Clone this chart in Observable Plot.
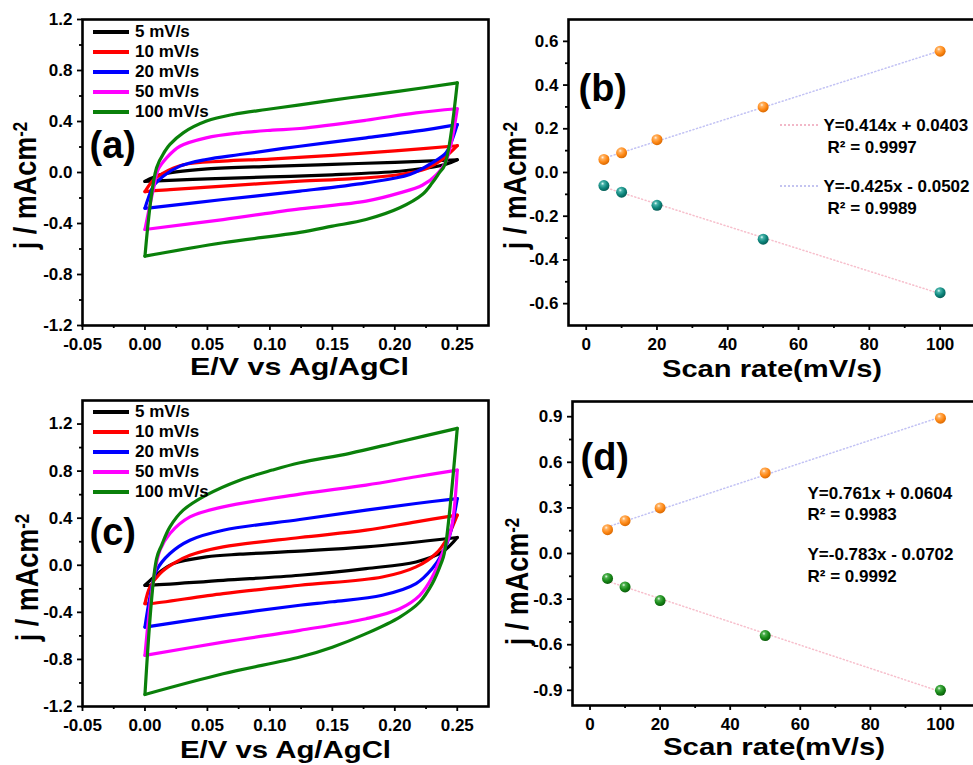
<!DOCTYPE html>
<html>
<head>
<meta charset="utf-8">
<script src="https://cdn.jsdelivr.net/npm/d3@7"></script>
<script src="https://cdn.jsdelivr.net/npm/@observablehq/plot@0.6"></script>
<style>
  html, body { margin: 0; padding: 0; background: #fff; overflow: hidden; }
  #root { position: relative; width: 973px; height: 765px; overflow: hidden; background: #fff;
          font-family: "Liberation Sans", Arial, sans-serif; }
  .panel { position: absolute; }
  .leg-line { position: absolute; height: 4px; }
  .leg-text { position: absolute; font: bold 17px "Liberation Sans", Arial, sans-serif; line-height: 20px; color: #000; white-space: nowrap; }
  .fit-key { position: absolute; height: 0; border-top: 2px dotted; }
</style>
</head>
<body>
<div id="root"></div>
<script>
// ---------------- data ----------------
const scanLabels = ["5 mV/s", "10 mV/s", "20 mV/s", "50 mV/s", "100 mV/s"];
const scanRates = [5, 10, 20, 50, 100];

const potentialTicks = [-0.05, 0.00, 0.05, 0.10, 0.15, 0.20, 0.25];
const potentialMinor = [-0.025, 0.025, 0.075, 0.125, 0.175, 0.225];
const currentTicksAC = [-1.2, -0.8, -0.4, 0.0, 0.4, 0.8, 1.2];
const currentMinorAC = [-1.0, -0.6, -0.2, 0.2, 0.6, 1.0];
const rateTicks = [0, 20, 40, 60, 80, 100];
const rateMinor = [10, 30, 50, 70, 90];
const currentTicksB = [-0.6, -0.4, -0.2, 0.0, 0.2, 0.4, 0.6];
const currentMinorB = [-0.5, -0.3, -0.1, 0.1, 0.3, 0.5];
const currentTicksD = [-0.9, -0.6, -0.3, 0.0, 0.3, 0.6, 0.9];
const currentMinorD = [-0.75, -0.45, -0.15, 0.15, 0.45, 0.75];

// CV loops, panel (a): [E (V), j (mA/cm2)] — forward sweep to 0.25 V, then reverse sweep
const cvA5 = [[0,-0.07],[0.005,-0.045],[0.012,-0.018],[0.025,0.005],[0.05,0.028],[0.1,0.048],[0.15,0.064],[0.2,0.08],[0.25,0.1],[0.241,0.065],[0.225,0.035],[0.204,0.01],[0.15,-0.018],[0.1,-0.035],[0.05,-0.05],[0.01,-0.065],[0,-0.07]];
const cvA10 = [[0,-0.15],[0.0067,-0.06],[0.0146,-0.005],[0.0306,0.06],[0.0626,0.089],[0.1,0.105],[0.15,0.135],[0.2,0.17],[0.25,0.21],[0.238,0.102],[0.225,0.03],[0.204,-0.016],[0.164,-0.05],[0.124,-0.068],[0.0626,-0.107],[0.02,-0.135],[0.004,-0.146],[0,-0.15]];
const cvA20 = [[0,-0.28],[0.0027,-0.2],[0.0067,-0.107],[0.0146,-0.029],[0.028,0.05],[0.049,0.102],[0.076,0.141],[0.124,0.206],[0.177,0.272],[0.217,0.324],[0.25,0.376],[0.245,0.233],[0.241,0.155],[0.23,0.076],[0.212,-0.016],[0.177,-0.081],[0.124,-0.146],[0.0626,-0.212],[0.004,-0.277],[0,-0.28]];
const cvA50 = [[0,-0.447],[0.0067,-0.133],[0.0106,0.024],[0.0173,0.115],[0.028,0.206],[0.049,0.272],[0.076,0.311],[0.102,0.332],[0.124,0.345],[0.177,0.41],[0.217,0.468],[0.25,0.5],[0.241,0.09],[0.233,-0.02],[0.222,-0.1],[0.204,-0.16],[0.177,-0.225],[0.124,-0.285],[0.0626,-0.369],[0,-0.447]];
const cvA100 = [[0,-0.656],[0.0093,0.037],[0.016,0.167],[0.02,0.22],[0.0306,0.311],[0.0493,0.403],[0.0705,0.455],[0.0972,0.494],[0.124,0.53],[0.164,0.586],[0.204,0.638],[0.25,0.703],[0.24,0.06],[0.2356,-0.003],[0.23,-0.081],[0.222,-0.173],[0.204,-0.277],[0.177,-0.369],[0.15,-0.421],[0.124,-0.47],[0.0626,-0.551],[0,-0.656]];

// CV loops, panel (c)
const cvC5 = [[0,-0.17],[0.012,-0.057],[0.0226,0.014],[0.049,0.071],[0.076,0.094],[0.124,0.12],[0.177,0.156],[0.25,0.236],[0.238,0.113],[0.217,0.028],[0.177,-0.028],[0.124,-0.085],[0.0626,-0.128],[0.004,-0.17],[0,-0.17]];
const cvC10 = [[0,-0.326],[0.004,-0.184],[0.012,-0.07],[0.0226,0.014],[0.036,0.085],[0.0626,0.156],[0.124,0.236],[0.177,0.298],[0.217,0.369],[0.25,0.426],[0.241,0.213],[0.233,0.1],[0.217,-0.014],[0.19,-0.1],[0.124,-0.17],[0.0626,-0.241],[0.004,-0.326],[0,-0.326]];
const cvC20 = [[0,-0.525],[0.004,-0.27],[0.0093,-0.043],[0.02,0.1],[0.036,0.213],[0.0626,0.298],[0.124,0.389],[0.177,0.468],[0.217,0.525],[0.25,0.567],[0.2436,0.241],[0.238,0.1],[0.23,-0.028],[0.217,-0.156],[0.19,-0.255],[0.15,-0.31],[0.124,-0.34],[0.0626,-0.426],[0,-0.525]];
const cvC50 = [[0,-0.766],[0.0027,-0.468],[0.0067,-0.128],[0.012,0.128],[0.02,0.27],[0.036,0.411],[0.0626,0.496],[0.124,0.604],[0.177,0.681],[0.217,0.752],[0.25,0.809],[0.245,0.3],[0.238,0.1],[0.23,-0.1],[0.22,-0.255],[0.204,-0.369],[0.177,-0.454],[0.124,-0.553],[0.0626,-0.653],[0,-0.766]];
const cvC100 = [[0,-1.098],[0.0093,0.057],[0.0133,0.17],[0.02,0.326],[0.0306,0.468],[0.049,0.596],[0.0759,0.723],[0.102,0.809],[0.124,0.871],[0.164,0.951],[0.204,1.05],[0.25,1.163],[0.2396,0.1],[0.237,0.014],[0.23,-0.156],[0.22,-0.312],[0.204,-0.44],[0.177,-0.581],[0.15,-0.696],[0.124,-0.78],[0.0626,-0.922],[0,-1.098]];

// peak current vs scan rate
const anodicB = [0.06, 0.09, 0.15, 0.30, 0.555];
const cathodicB = [-0.06, -0.09, -0.15, -0.305, -0.55];
const anodicD = [0.157, 0.216, 0.30, 0.53, 0.89];
const cathodicD = [-0.164, -0.22, -0.31, -0.54, -0.90];

const eqB = ["Y=0.414x + 0.0403", "R\u00B2 = 0.9997", "Y=-0.425x - 0.0502", "R\u00B2 = 0.9989"];
const eqD = ["Y=0.761x + 0.0604", "R\u00B2 = 0.9983", "Y=-0.783x - 0.0702", "R\u00B2 = 0.9992"];

// ---------------- styles ----------------
const scanColors = ["#000000", "#ff0000", "#0000ff", "#ff00ff", "#0a800a"];
const FONT = '"Liberation Sans", Arial, sans-serif';
const YTITLE = "j / mAcm\u207B\u00B2";

function axes(xTicks, xMinor, xFmt, yTicks, yMinor, yFmt) {
  return [
    Plot.axisX({ticks: xMinor, tickSize: 3, strokeWidth: 1.8, fill: "none", label: null}),
    Plot.axisX({ticks: xTicks, tickSize: 5, tickPadding: 7, strokeWidth: 1.8, tickFormat: xFmt, label: null, fontSize: 17, fontWeight: "bold"}),
    Plot.axisY({ticks: yMinor, tickSize: 3, strokeWidth: 1.8, fill: "none", label: null}),
    Plot.axisY({ticks: yTicks, tickSize: 5, tickPadding: 5, strokeWidth: 1.8, tickFormat: yFmt, label: null, fontSize: 17, fontWeight: "bold"})
  ];
}
const f2 = d => d.toFixed(2);
const f1 = d => d.toFixed(1);
const f0 = d => String(d);

function baseStyle() {
  return {background: "transparent", overflow: "visible", fontFamily: FONT, fontSize: "16px", fontWeight: "bold", color: "#000"};
}

function titles(cfg, xTitle) {
  return [
    Plot.text([cfg.tag], {text: d => d, frameAnchor: "top-left", textAnchor: "start", lineAnchor: "middle", dx: cfg.tagDx, dy: cfg.tagDy, fontSize: 38, fontWeight: "bold"}),
    Plot.text([xTitle], {text: d => d, frameAnchor: "bottom", textAnchor: "middle", lineAnchor: "middle", dx: cfg.xtDx, dy: cfg.xtDy, fontSize: 24, fontWeight: "bold"}),
    Plot.text([YTITLE], {text: d => d, frameAnchor: "left", textAnchor: "middle", lineAnchor: "middle", rotate: -90, dx: cfg.ytDx, dy: cfg.ytDy, fontSize: 27, fontWeight: "bold"})
  ];
}

// split each loop into its forward (to 0.25 V) and reverse sweep so the vertex stays sharp
function cvRows(loops) {
  return loops.flatMap((loop, k) => {
    const turn = d3.maxIndex(loop, p => p[0]);
    const fwd = loop.slice(0, turn + 1).map(([e, j]) => ({e, j, scan: scanLabels[k], sweep: scanLabels[k] + " fwd"}));
    const rev = loop.slice(turn).map(([e, j]) => ({e, j, scan: scanLabels[k], sweep: scanLabels[k] + " rev"}));
    return fwd.concat(rev);
  });
}

function cvPanel(loops, cfg) {
  const rows = cvRows(loops);
  return Plot.plot({
    width: cfg.width, height: cfg.height,
    marginLeft: cfg.ml, marginRight: cfg.mr, marginTop: cfg.mt, marginBottom: cfg.mb,
    style: baseStyle(),
    x: {domain: [-0.05, 0.275], label: null},
    y: {domain: cfg.yDomain, label: null},
    color: {type: "ordinal", domain: scanLabels, range: scanColors},
    marks: [
      ...axes(potentialTicks, potentialMinor, f2, currentTicksAC, currentMinorAC, f1),
      Plot.line(rows, {x: "e", y: "j", z: "sweep", stroke: "scan", curve: "catmull-rom", strokeWidth: 3.2, strokeLinejoin: "round", strokeLinecap: "round"}),
      Plot.frame({strokeWidth: 2.6}),
      ...titles(cfg, "E/V vs Ag/AgCl")
    ]
  });
}

function ratePanel(anodic, cathodic, eqs, cfg) {
  const up = scanRates.map((r, i) => ({rate: r, j: anodic[i]}));
  const dn = scanRates.map((r, i) => ({rate: r, j: cathodic[i]}));
  const eqMarks = eqs.map((s, i) => Plot.text([s], {text: d => d, frameAnchor: "top-left", textAnchor: "start", lineAnchor: "middle",
    dx: cfg.eqDx[i], dy: cfg.eqDy[i], fontSize: 17, fontWeight: "bold"}));
  return Plot.plot({
    width: cfg.width, height: cfg.height,
    marginLeft: cfg.ml, marginRight: cfg.mr, marginTop: cfg.mt, marginBottom: cfg.mb,
    style: baseStyle(),
    x: {domain: [-5, 110], label: null},
    y: {domain: cfg.yDomain, label: null},
    marks: [
      ...axes(rateTicks, rateMinor, f0, cfg.yTicks, cfg.yMinor, f1),
      Plot.linearRegressionY(up, {x: "rate", y: "j", ci: 0, stroke: "#c2c2f4", strokeWidth: 1.5, strokeDasharray: "1,2.6"}),
      Plot.linearRegressionY(dn, {x: "rate", y: "j", ci: 0, stroke: "#f7bfcc", strokeWidth: 1.5, strokeDasharray: "1,2.6"}),
      Plot.dot(up, {x: "rate", y: "j", r: 5.5, fill: `url(#${cfg.id}-up)`}),
      Plot.dot(dn, {x: "rate", y: "j", r: 5.5, fill: `url(#${cfg.id}-dn)`}),
      Plot.frame({strokeWidth: 2.6}),
      ...eqMarks,
      ...titles(cfg, "Scan rate(mV/s)")
    ]
  });
}

function addGradient(svg, id, stops) {
  let defs = d3.select(svg).select("defs");
  if (defs.empty()) defs = d3.select(svg).insert("defs", ":first-child");
  const g = defs.append("radialGradient").attr("id", id).attr("cx", "0.38").attr("cy", "0.32").attr("r", "0.7");
  stops.forEach(([o, c]) => g.append("stop").attr("offset", o).attr("stop-color", c));
}

function finishText(svg, xTitle, xLen) {
  d3.select(svg).selectAll("text").each(function() {
    const t = d3.select(this);
    if (this.textContent === xTitle) {
      t.attr("textLength", xLen).attr("lengthAdjust", "spacingAndGlyphs");
    } else if (this.textContent === YTITLE) {
      t.text("j / mAcm");
      t.append("tspan").attr("dy", "-0.42em").attr("font-size", "0.62em").text("-2");
      const tr = t.attr("transform");
      if (tr) t.attr("transform", tr + " scale(1,1.18)");
    }
  });
}

const root = document.getElementById("root");
function place(node, left, top, w, h) {
  const div = document.createElement("div");
  div.className = "panel";
  div.style.left = left + "px"; div.style.top = top + "px";
  div.style.width = w + "px"; div.style.height = h + "px";
  div.appendChild(node);
  root.appendChild(div);
}

// (a)
const svgA = cvPanel([cvA5, cvA10, cvA20, cvA50, cvA100], {
  width: 490, height: 380, ml: 82, mr: 2, mt: 19, mb: 55, yDomain: [-1.2, 1.2],
  tag: "(a)", tagDx: 7, tagDy: 126, xtDx: 14, xtDy: 42, ytDx: -57, ytDy: 13
});
finishText(svgA, "E/V vs Ag/AgCl", 219);
place(svgA, 0, 0, 490, 380);

// (b)
const svgB = ratePanel(anodicB, cathodicB, eqB, {
  id: "pb", width: 485, height: 380, ml: 78, mr: 0, mt: 19, mb: 55, yDomain: [-0.7, 0.7],
  yTicks: currentTicksB, yMinor: currentMinorB,
  eqDx: [255, 259, 255, 259], eqDy: [106, 128, 167, 189],
  tag: "(b)", tagDx: 10, tagDy: 69, xtDx: 0, xtDy: 44, ytDx: -53, ytDy: 13
});
addGradient(svgB, "pb-up", [["0", "#fff6e6"], ["0.22", "#ffb060"], ["0.6", "#ff8a17"], ["1", "#d96800"]]);
addGradient(svgB, "pb-dn", [["0", "#e6fffb"], ["0.22", "#48b3aa"], ["0.6", "#0f877d"], ["1", "#045c55"]]);
finishText(svgB, "Scan rate(mV/s)", 220);
place(svgB, 490, 0, 485, 380);

// (c)
const svgC = cvPanel([cvC5, cvC10, cvC20, cvC50, cvC100], {
  width: 490, height: 385, ml: 82, mr: 2, mt: 20, mb: 59, yDomain: [-1.2, 1.4],
  tag: "(c)", tagDx: 7, tagDy: 132, xtDx: 0, xtDy: 44, ytDx: -55, ytDy: 24
});
finishText(svgC, "E/V vs Ag/AgCl", 211);
place(svgC, 0, 380, 490, 385);

// (d)
const svgD = ratePanel(anodicD, cathodicD, eqD, {
  id: "pd", width: 485, height: 385, ml: 82, mr: 0, mt: 21, mb: 60, yDomain: [-1, 1],
  yTicks: currentTicksD, yMinor: currentMinorD,
  eqDx: [235, 235, 235, 235], eqDy: [92, 113, 153, 175],
  tag: "(d)", tagDx: 8, tagDy: 56, xtDx: 0, xtDy: 42, ytDx: -55, ytDy: 28
});
addGradient(svgD, "pd-up", [["0", "#fff6e6"], ["0.22", "#ffb060"], ["0.6", "#ff8a17"], ["1", "#d96800"]]);
addGradient(svgD, "pd-dn", [["0", "#eaffea"], ["0.22", "#4fb04f"], ["0.6", "#188a18"], ["1", "#0a5a0a"]]);
finishText(svgD, "Scan rate(mV/s)", 222);
place(svgD, 490, 380, 485, 385);

// in-plot legends for (a) and (c)
function legend(top0) {
  scanLabels.forEach((lab, i) => {
    const y = top0 + i * 20;
    const line = document.createElement("div");
    line.className = "leg-line";
    line.style.left = "93px"; line.style.top = (y - 2) + "px"; line.style.width = "36px";
    line.style.background = scanColors[i];
    root.appendChild(line);
    const txt = document.createElement("div");
    txt.className = "leg-text";
    txt.style.left = "135px"; txt.style.top = (y - 10) + "px";
    txt.textContent = lab;
    root.appendChild(txt);
  });
}
legend(32);
legend(412);

// dotted keys in front of the fit equations of (b)
[["124px", "#f2b8c8"], ["185px", "#c4c4f0"]].forEach(([top, col]) => {
  const k = document.createElement("div");
  k.className = "fit-key";
  k.style.left = "780px"; k.style.top = top; k.style.width = "38px"; k.style.borderTopColor = col;
  root.appendChild(k);
});
</script>
</body>
</html>
